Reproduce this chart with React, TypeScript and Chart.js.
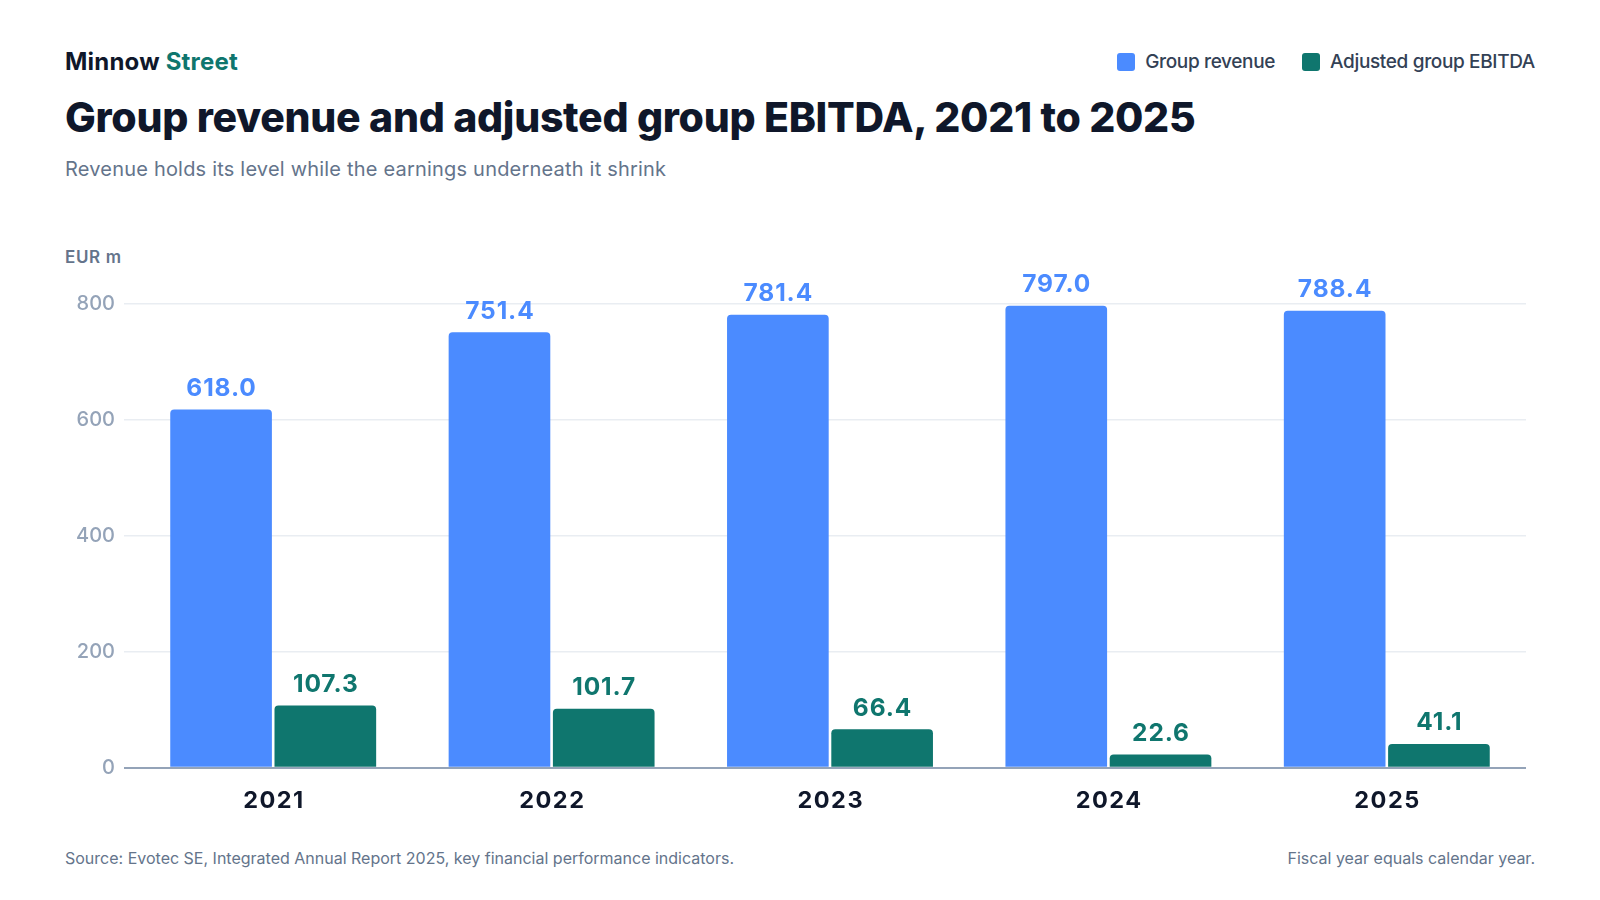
import React, { useEffect, useRef } from "react";
import { Chart, registerables } from "chart.js";

Chart.register(...registerables);

const categories = ["2021", "2022", "2023", "2024", "2025"];
const revenue = [618.0, 751.4, 781.4, 797.0, 788.4];
const ebitda = [107.3, 101.7, 66.4, 22.6, 41.1];
const seriesNames = ["Group revenue", "Adjusted group EBITDA"];
const yTicks = [0, 200, 400, 600, 800];

const BLUE = "#4b8bff";
const GREEN = "#0f766e";
const FONT = "Inter, 'Noto Sans', sans-serif";

const valueLabels = {
  id: "valueLabels",
  afterDatasetsDraw(chart: any) {
    const ctx = chart.ctx;
    ctx.save();
    ctx.font = `700 24.5px ${FONT}`;
    const ls = 0.9;
    (ctx as any).letterSpacing = `${ls}px`;
    ctx.textAlign = "center";
    ctx.textBaseline = "alphabetic";
    chart.data.datasets.forEach((ds: any, i: number) => {
      const meta = chart.getDatasetMeta(i);
      ctx.fillStyle = ds.backgroundColor;
      meta.data.forEach((el: any, j: number) => {
        ctx.fillText(Number(ds.data[j]).toFixed(1), el.x + ls / 2, el.y - 13.5);
      });
    });
    ctx.restore();
  },
  afterDraw(chart: any) {
    const ctx = chart.ctx;
    const xs = chart.scales.x;
    ctx.save();
    ctx.font = `700 23.5px ${FONT}`;
    const ls = 1.5;
    (ctx as any).letterSpacing = `${ls}px`;
    ctx.textAlign = "center";
    ctx.textBaseline = "alphabetic";
    ctx.fillStyle = "#0f172a";
    categories.forEach((c, i) => {
      ctx.fillText(c, xs.getPixelForValue(i) + ls / 2, chart.chartArea.bottom + 40.6);
    });
    ctx.restore();
  },
};

export default function App() {
  const ref = useRef<HTMLCanvasElement | null>(null);

  useEffect(() => {
    if (!ref.current) return;
    const chart = new Chart(ref.current, {
      type: "bar",
      data: {
        labels: categories,
        datasets: [
          {
            label: seriesNames[0],
            data: revenue,
            backgroundColor: BLUE,
            borderRadius: { topLeft: 4, topRight: 4, bottomLeft: 0, bottomRight: 0 },
            borderSkipped: "bottom",
            categoryPercentage: 0.749,
            barPercentage: 0.975,
          },
          {
            label: seriesNames[1],
            data: ebitda,
            backgroundColor: GREEN,
            borderRadius: { topLeft: 4, topRight: 4, bottomLeft: 0, bottomRight: 0 },
            borderSkipped: "bottom",
            categoryPercentage: 0.749,
            barPercentage: 0.975,
          },
        ],
      },
      options: {
        responsive: false,
        animation: false,
        devicePixelRatio: window.devicePixelRatio || 1,
        layout: { padding: { top: 34, right: 74, left: 0, bottom: 0 } },
        plugins: {
          legend: { display: false },
          tooltip: { enabled: false },
          title: { display: false },
        },
        scales: {
          x: {
            grid: { display: false, drawTicks: false },
            border: { display: false },
            ticks: { display: false },
            afterFit(scale: any) {
              scale.height = 62.3;
            },
          },
          y: {
            min: 0,
            max: 800,
            border: { display: false },
            afterBuildTicks(scale: any) {
              scale.ticks = yTicks.map((v) => ({ value: v }));
            },
            grid: {
              color: (c: any) => (c.tick && c.tick.value === 0 ? "#94a3b8" : "#e9edf2"),
              lineWidth: (c: any) => (c.tick && c.tick.value === 0 ? 2 : 1.5),
              drawTicks: true,
              tickLength: 10,
            },
            ticks: {
              color: "#94a3b8",
              font: { family: FONT, size: 20, weight: "500" },
              padding: 9,
            },
            afterFit(scale: any) {
              scale.width = 134;
            },
          },
        },
      },
      plugins: [valueLabels],
    });
    return () => chart.destroy();
  }, []);

  const abs = (o: React.CSSProperties): React.CSSProperties => ({
    position: "absolute",
    margin: 0,
    lineHeight: 1,
    whiteSpace: "nowrap",
    fontFamily: FONT,
    ...o,
  });

  return (
    <div
      style={{
        position: "absolute",
        left: 0,
        top: 0,
        width: 1600,
        height: 900,
        background: "#ffffff",
        overflow: "hidden",
        fontFamily: FONT,
      }}
    >
      <div style={abs({ left: 65, top: 50, fontSize: 24, fontWeight: 700, color: "#0f172a", letterSpacing: 0.2 })}>
        Minnow <span style={{ color: GREEN }}>Street</span>
      </div>
      <div
        style={abs({
          left: 65,
          top: 97.3,
          fontSize: 41,
          fontWeight: 800,
          color: "#0f172a",
          letterSpacing: -0.3,
        })}
      >
        Group revenue and adjusted group EBITDA, 2021 to 2025
      </div>
      <div style={abs({ left: 65, top: 159, fontSize: 20, fontWeight: 400, color: "#64748b", letterSpacing: 0.2 })}>
        Revenue holds its level while the earnings underneath it shrink
      </div>

      <div
        style={abs({
          right: 65,
          top: 52,
          display: "flex",
          alignItems: "center",
          fontSize: 19,
          fontWeight: 500,
          color: "#334155",
          letterSpacing: -0.35,
        })}
      >
        <span style={{ width: 18, height: 18, borderRadius: 3, background: BLUE, display: "inline-block", marginRight: 10 }} />
        <span style={{ marginRight: 27 }}>{seriesNames[0]}</span>
        <span style={{ width: 18, height: 18, borderRadius: 3, background: GREEN, display: "inline-block", marginRight: 10 }} />
        <span>{seriesNames[1]}</span>
      </div>

      <div style={abs({ left: 65, top: 249, fontSize: 17, fontWeight: 600, color: "#64748b", letterSpacing: 0.65 })}>EUR m</div>

      <div style={{ position: "absolute", left: 0, top: 270, width: 1600, height: 560 }}>
        <canvas ref={ref} width={1600} height={560} style={{ width: 1600, height: 560, display: "block" }} />
      </div>

      <div style={abs({ left: 65, top: 850, fontSize: 16, fontWeight: 400, color: "#64748b" })}>
        Source: Evotec SE, Integrated Annual Report 2025, key financial performance indicators.
      </div>
      <div style={abs({ right: 65, top: 850, fontSize: 16, fontWeight: 400, color: "#64748b" })}>
        Fiscal year equals calendar year.
      </div>
    </div>
  );
}
